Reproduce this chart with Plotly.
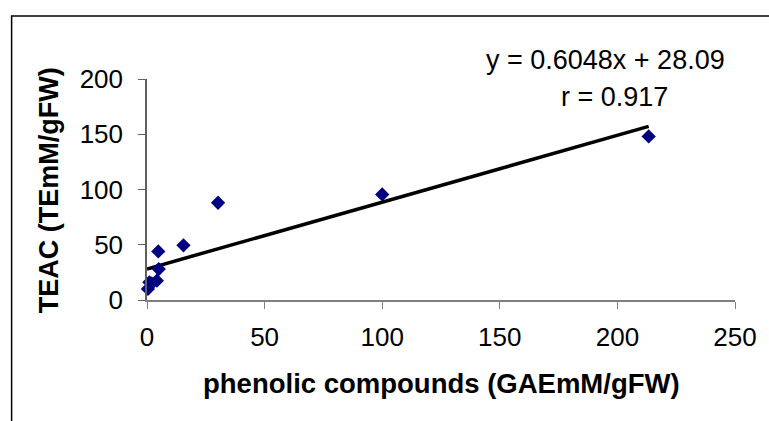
import plotly.graph_objects as go

# Data
phenolic = [0.4, 1.0, 2.0, 4.2, 5.0, 4.8, 15.5, 30.2, 100.0, 213.3]
teac = [10.0, 16.0, 15.0, 17.5, 28.0, 44.0, 49.5, 88.0, 95.5, 148.0]
slope = 0.6048
intercept = 28.09
x_ticks = [0, 50, 100, 150, 200, 250]
y_ticks = [0, 50, 100, 150, 200]
eq_text = "y = 0.6048x + 28.09"
r_text = "r = 0.917"
x_title = "phenolic compounds (GAEmM/gFW)"
y_title = "TEAC (TEmM/gFW)"

line_x = [0, max(phenolic)]
line_y = [slope * v + intercept for v in line_x]

FONT = "Liberation Sans, Arial, sans-serif"

fig = go.Figure()
fig.add_trace(go.Scatter(x=line_x, y=line_y, mode="lines",
                         line=dict(color="black", width=3.5),
                         showlegend=False, cliponaxis=False))
fig.add_trace(go.Scatter(x=phenolic, y=teac, mode="markers",
                         marker=dict(symbol="diamond", color="#000080", size=11,
                                     line=dict(width=0)),
                         showlegend=False, cliponaxis=False))

W, H = 769, 421
L, R, T, B = 147, 27, 79, 121
pw = W - L - R
ph = H - T - B

def px(xp):
    return (xp - L) / pw

def py(yp):
    return (H - B - yp) / ph

fig.update_layout(
    width=W, height=H,
    margin=dict(l=L, r=R, t=T, b=B, pad=0),
    paper_bgcolor="white", plot_bgcolor="white",
    font=dict(family=FONT, size=26, color="black"),
    xaxis=dict(range=[0, 250], tickvals=x_ticks, ticks="outside", ticklen=7,
               tickcolor="#808080", showline=True, linecolor="#808080", linewidth=1.5,
               showgrid=False, zeroline=False, tickfont=dict(size=26),
               ticklabelstandoff=6),
    yaxis=dict(range=[0, 200], tickvals=y_ticks, ticks="outside", ticklen=7,
               tickcolor="#606060", showline=True, linecolor="#606060", linewidth=1.5,
               showgrid=False, zeroline=False, tickfont=dict(size=26),
               ticklabelstandoff=10),
    shapes=[dict(type="rect", xref="paper", yref="paper",
                 x0=px(10), x1=px(790), y0=py(440), y1=py(16),
                 line=dict(color="black", width=1.5))],
    annotations=[
        dict(text=eq_text, x=px(611), y=py(60), xref="paper", yref="paper",
             showarrow=False, xanchor="center", yanchor="middle",
             font=dict(size=27, family=FONT)),
        dict(text=r_text, x=px(620), y=py(97), xref="paper", yref="paper",
             showarrow=False, xanchor="center", yanchor="middle",
             font=dict(size=27, family=FONT)),
        dict(text="<b>" + x_title + "</b>", x=px(445), y=py(383), xref="paper", yref="paper",
             showarrow=False, xanchor="center", yanchor="middle",
             font=dict(size=27.5, family=FONT)),
        dict(text="<b>" + y_title + "</b>", x=px(48), y=py(190), xref="paper", yref="paper",
             showarrow=False, xanchor="center", yanchor="middle", textangle=-90,
             font=dict(size=27, family=FONT)),
    ],
)

fig.write_html("out.html", config={"displayModeBar": False},
               post_script="document.body.style.margin='0px';")
